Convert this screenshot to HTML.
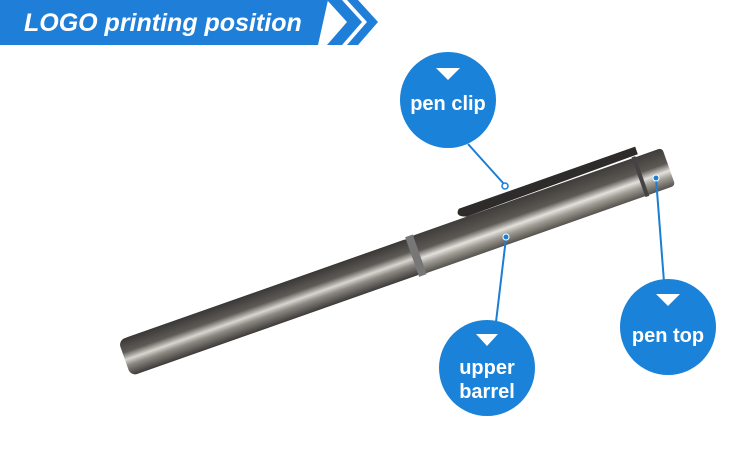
<!DOCTYPE html>
<html><head><meta charset="utf-8"><style>
body{margin:0;width:750px;height:454px;overflow:hidden;background:#fff}
text{font-family:"Liberation Sans",sans-serif;font-weight:bold;fill:#fff}
</style></head><body>
<svg width="750" height="454" viewBox="0 0 750 454">
<defs>
<linearGradient id="body" x1="0" y1="0" x2="0" y2="1">
<stop offset="0" stop-color="#3a3836"/><stop offset="0.35" stop-color="#5e5b57"/>
<stop offset="0.55" stop-color="#d8d6d0"/><stop offset="0.7" stop-color="#8d8a84"/><stop offset="1" stop-color="#3c3a38"/>
</linearGradient>
<linearGradient id="cap" x1="0" y1="0" x2="0" y2="1">
<stop offset="0" stop-color="#3f3d3a"/><stop offset="0.4" stop-color="#5c5954"/>
<stop offset="0.6" stop-color="#e3e1dc"/><stop offset="0.75" stop-color="#a09d96"/><stop offset="1" stop-color="#55524d"/>
</linearGradient>
</defs>
<polygon points="0,0 328,0 318,45 0,45" fill="#1f7fd8"/>
<text x="24" y="31" font-size="25" font-style="italic">LOGO printing position</text>
<polygon points="327,0 342,0 362,22 342,45 327,45 347,22" fill="#1f7fd8"/>
<polygon points="347,0 358,0 378,22 358,45 347,45 367,22" fill="#1f7fd8"/>
<g transform="translate(398,262) rotate(-19.4)">
<rect x="-290" y="-19" width="310" height="38" rx="7" fill="url(#body)"/>
<rect x="15" y="-20" width="272" height="40" rx="4" fill="url(#cap)"/>
<rect x="15" y="-21" width="8" height="42" fill="#777"/>
<rect x="255" y="-21" width="4" height="42" fill="#444"/>
<path d="M75,-30 L262,-30 L262,-22 L80,-20 Q68,-24 75,-30Z" fill="#2e2c2a"/>
</g>
<g stroke="#1a7fd4" stroke-width="2" fill="none">
<line x1="468" y1="144" x2="504" y2="184"/>
<line x1="506" y1="238" x2="496" y2="322"/>
<line x1="656" y1="178" x2="664" y2="282"/>
</g>
<circle cx="505" cy="186" r="3" fill="#fff" stroke="#1a7fd4" stroke-width="1.5"/>
<circle cx="506" cy="237" r="3" fill="#1a7fd4" stroke="#fff"/>
<circle cx="656" cy="178" r="3" fill="#1a7fd4" stroke="#fff"/>
<circle cx="448" cy="100" r="48" fill="#1a82d8"/>
<polygon points="436,68 460,68 448,80" fill="#fff"/>
<text x="448" y="110" font-size="20" text-anchor="middle">pen clip</text>
<circle cx="487" cy="368" r="48" fill="#1a82d8"/>
<polygon points="476,334 498,334 487,346" fill="#fff"/>
<text x="487" y="374" font-size="20" text-anchor="middle">upper</text>
<text x="487" y="398" font-size="20" text-anchor="middle">barrel</text>
<circle cx="668" cy="327" r="48" fill="#1a82d8"/>
<polygon points="656,294 680,294 668,306" fill="#fff"/>
<text x="668" y="342" font-size="20" text-anchor="middle">pen top</text>
</svg>
</body></html>
